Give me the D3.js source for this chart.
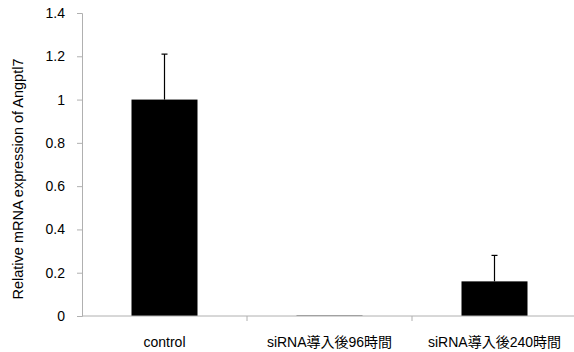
<!DOCTYPE html>
<html>
<head>
<meta charset="utf-8">
<script src="https://cdn.jsdelivr.net/npm/d3@7"></script>
<style>
  html, body { margin: 0; padding: 0; background: #fff; }
  svg { display: block; font-family: "Liberation Sans", "Noto Sans CJK JP", sans-serif; }
</style>
</head>
<body>
<svg id="chart" width="574" height="352"></svg>
<script>
const categories = ["control", "siRNA導入後96時間", "siRNA導入後240時間"];
const values = [1.0, 0.002, 0.16];
const errors = [0.21, 0.0, 0.12];
const yTicks = [0, 0.2, 0.4, 0.6, 0.8, 1, 1.2, 1.4];
const yLabel = "Relative mRNA expression of Angptl7";

const svg = d3.select("#chart");
const x0 = 82, bandW = 165;

const x = d3.scaleBand().domain(categories)
  .range([x0, x0 + bandW * categories.length]).paddingInner(0).paddingOuter(0);
const y = d3.scaleLinear().domain([0, 1.4]).range([316, 13]);

const axisColor = "#b0b0b0";

// y axis
const yAxis = svg.append("g").attr("transform", `translate(${x0},0)`)
  .call(d3.axisLeft(y).tickValues(yTicks).tickSize(5).tickPadding(12)
    .tickFormat(d => d3.format("~g")(d)));
yAxis.select(".domain").attr("stroke", axisColor);
yAxis.selectAll(".tick line").attr("stroke", axisColor);
yAxis.selectAll(".tick text").attr("font-size", 14).attr("fill", "#000")
  .attr("font-family", "'Liberation Sans', sans-serif");

// bars
const barW = bandW * 0.4;
svg.append("g").selectAll("rect").data(categories).join("rect")
  .attr("x", d => x(d) + (bandW - barW) / 2)
  .attr("y", (d, i) => y(values[i]))
  .attr("width", barW)
  .attr("height", (d, i) => y(0) - y(values[i]))
  .attr("fill", "#000");

// error bars (upper only)
const eb = svg.append("g").attr("stroke", "#000").attr("stroke-width", 1.2);
categories.forEach((c, i) => {
  if (errors[i] <= 0) return;
  const cx = x(c) + bandW / 2;
  const top = y(values[i] + errors[i]);
  eb.append("line").attr("x1", cx).attr("x2", cx).attr("y1", y(values[i])).attr("y2", top);
  eb.append("line").attr("x1", cx - 3).attr("x2", cx + 3).attr("y1", top).attr("y2", top);
});

// x axis
const xAxis = svg.append("g").attr("transform", `translate(0,${y(0)})`);
xAxis.append("line").attr("x1", x0).attr("x2", 574).attr("y1", 0).attr("y2", 0)
  .attr("stroke", axisColor);
categories.slice(1).forEach(c => {
  xAxis.append("line").attr("x1", x(c)).attr("x2", x(c)).attr("y1", 0).attr("y2", 5)
    .attr("stroke", axisColor);
});
xAxis.selectAll("text").data(categories).join("text")
  .attr("x", d => x(d) + bandW / 2)
  .attr("y", 31)
  .attr("text-anchor", "middle")
  .attr("font-size", 14)
  .text(d => d);

// y axis title
svg.append("text")
  .attr("transform", `translate(23,179) rotate(-90)`)
  .attr("text-anchor", "middle")
  .attr("font-size", 14.5)
  .text(yLabel);
</script>
</body>
</html>
